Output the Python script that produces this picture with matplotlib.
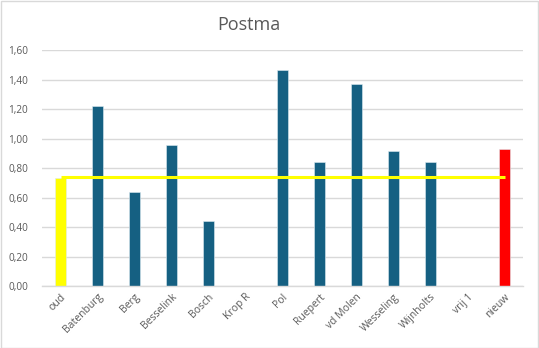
import matplotlib
matplotlib.use("Agg")
import matplotlib.pyplot as plt
from matplotlib.patches import Rectangle

categories = ["oud", "Batenburg", "Berg", "Besselink", "Bosch", "Krop R", "Pol",
              "Ruepert", "vd Molen", "Wesseling", "Wijnholts", "vrij 1", "nieuw"]
values = [0.735, 1.22, 0.64, 0.955, 0.44, 0.0, 1.465, 0.84, 1.37, 0.915, 0.84, 0.0, 0.93]
line_values = [0.737] * len(categories)
bar_colors = ["#FFFF00"] + ["#156082"] * 11 + ["#FF0000"]
yticks = [0.0, 0.2, 0.4, 0.6, 0.8, 1.0, 1.2, 1.4, 1.6]
ytick_labels = ["0,00", "0,20", "0,40", "0,60", "0,80", "1,00", "1,20", "1,40", "1,60"]

plt.rcParams['font.family'] = ['Open Sans', 'DejaVu Sans']

W, H = 539, 348
fig = plt.figure(figsize=(W / 100, H / 100), dpi=100)
fig.patch.set_facecolor("white")

left, right, top, bottom = 42, 523, 50, 286
ymax = 1.6
ax = fig.add_axes([left / W, 1 - bottom / H, (right - left) / W, (bottom - top) / H])

x = list(range(len(categories)))
ax.bar(x, values, width=0.3, color=bar_colors, edgecolor="#DDEBF2", linewidth=0.4, zorder=2)
ax.plot(x, line_values, color="#FFFF00", linewidth=2.2, zorder=3, solid_capstyle="butt")

ax.set_xlim(-0.5, len(categories) - 0.5)
ax.set_ylim(0, ymax)
ax.set_yticks(yticks)
ax.set_yticklabels(ytick_labels)
ax.yaxis.grid(True, color="#D9D9D9", linewidth=1.0, zorder=0)
ax.set_axisbelow(True)
for s in ["top", "right", "left"]:
    ax.spines[s].set_visible(False)
ax.spines["bottom"].set_color("#D9D9D9")
ax.spines["bottom"].set_linewidth(1.0)
ax.tick_params(axis="y", length=0, pad=10, labelsize=7.2, labelcolor="#595959")
ax.tick_params(axis="x", length=0, pad=4, labelsize=7.5, labelcolor="#595959")
ax.set_xticks(x)
ax.set_xticklabels(categories, rotation=45, ha="right", rotation_mode="anchor")
ax.set_facecolor("white")

fig.text(249 / W, 1 - 25 / H, "Postma", ha="center", va="center", fontsize=13, color="#595959")

fig.patches.append(Rectangle((0.5 / W, 0.5 / H), (W - 1.5) / W, (H - 1.5) / H,
                             transform=fig.transFigure, fill=False,
                             edgecolor="#D9D9D9", linewidth=1.0))

fig.savefig("out.png", dpi=100, facecolor="white")
